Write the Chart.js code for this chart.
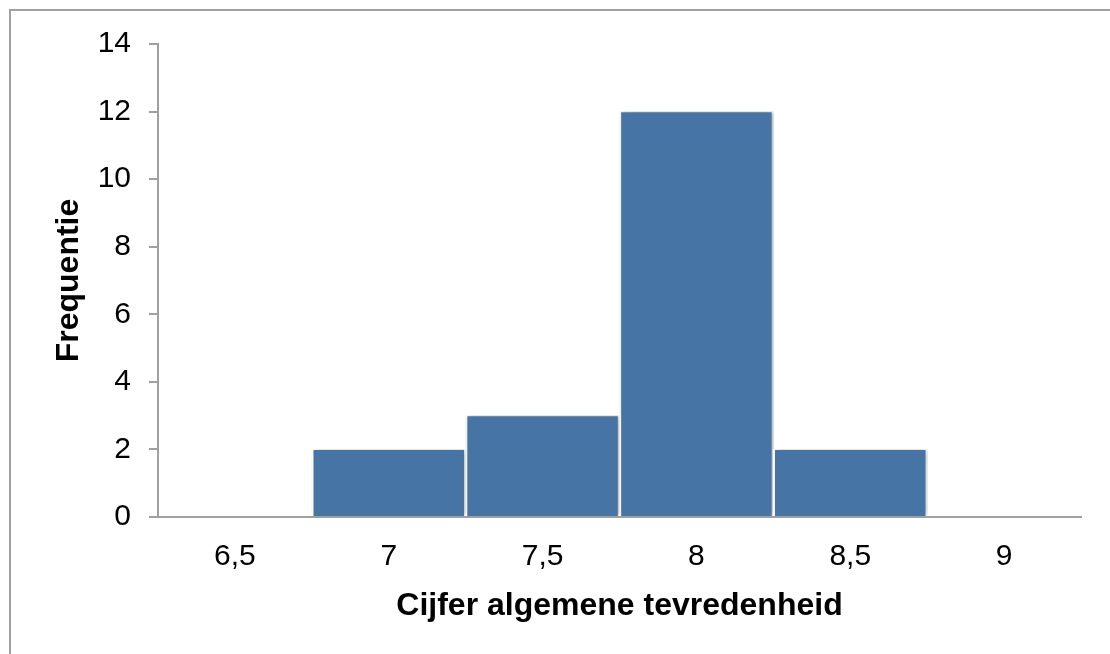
<!DOCTYPE html>
<html>
<head>
<meta charset="utf-8">
<script src="https://cdn.jsdelivr.net/npm/chart.js@4/dist/chart.umd.min.js"></script>
<style>
  html, body { margin: 0; padding: 0; background: #fff; }
  #wrap { width: 1110px; height: 654px; }
</style>
</head>
<body>
<div id="wrap"><canvas id="grafiek"></canvas></div>
<script>
// klassen (cijfers) en frequenties
var cijfers = ['6,5', '7', '7,5', '8', '8,5', '9'];
var frequenties = [0, 2, 3, 12, 2, 0];
var yTicks = [0, 2, 4, 6, 8, 10, 12, 14];

var grijs = '#a0a0a0';
var balkKleur = '#4674a5';

// achtergrond + grijze rand om de figuur
var randPlugin = {
    id: 'rand',
    beforeDraw: function(chart) {
        var ctx = chart.ctx;
        ctx.save();
        ctx.fillStyle = '#fff';
        ctx.fillRect(0, 0, chart.width, chart.height);
        ctx.strokeStyle = grijs;
        ctx.lineWidth = 2;
        ctx.strokeRect(10, 10, chart.width + 20, chart.height + 20);
        ctx.restore();
    },
    // lichte schaduw achter de balken
    beforeDatasetDraw: function(chart) {
        var ctx = chart.ctx;
        ctx.save();
        ctx.shadowColor = 'rgba(0,0,0,0.3)';
        ctx.shadowBlur = 5;
        ctx.shadowOffsetX = 2;
        ctx.shadowOffsetY = 0;
    },
    afterDatasetDraw: function(chart) {
        chart.ctx.restore();
    }
};

var ctx = document.getElementById('grafiek').getContext('2d');
var chart = new Chart(ctx, {
    type: 'bar',
    data: {
        labels: cijfers,
        datasets: [{
            label: 'Frequentie',
            data: frequenties,
            backgroundColor: balkKleur,
            borderColor: '#ffffff',
            borderWidth: { left: 2, right: 2, top: 1, bottom: 0 },
            borderSkipped: false,
            categoryPercentage: 1,
            barPercentage: 1
        }]
    },
    options: {
        responsive: true,
        maintainAspectRatio: false,
        animation: false,
        devicePixelRatio: 1,
        layout: { padding: { left: 0, top: 44, right: 29, bottom: 0 } },
        plugins: {
            legend: { display: false },
            tooltip: { enabled: false }
        },
        scales: {
            x: {
                grid: { display: true, drawOnChartArea: false, drawTicks: false },
                border: { color: grijs, width: 2 },
                ticks: {
                    color: '#000',
                    padding: 22,
                    maxRotation: 0,
                    font: { family: 'Liberation Sans', size: 30 }
                },
                title: {
                    display: true,
                    text: 'Cijfer algemene tevredenheid',
                    color: '#000',
                    padding: { top: 29, bottom: 29 },
                    font: { family: 'Liberation Sans', size: 32, weight: 'bold' }
                },
                afterFit: function(scale) { scale.height = 137; }
            },
            y: {
                min: 0,
                max: 14,
                afterBuildTicks: function(scale) {
                    scale.ticks = yTicks.map(function(v) { return { value: v }; });
                },
                grid: { drawOnChartArea: false, drawTicks: true, tickLength: 9, color: grijs, lineWidth: 2 },
                border: { color: grijs, width: 2 },
                ticks: {
                    color: '#000',
                    padding: 18,
                    font: { family: 'Liberation Sans', size: 30 }
                },
                title: {
                    display: true,
                    text: 'Frequentie',
                    color: '#000',
                    padding: { top: 50, bottom: 50 },
                    font: { family: 'Liberation Sans', size: 32, weight: 'bold' }
                },
                afterFit: function(scale) { scale.width = 158; }
            }
        }
    },
    plugins: [randPlugin]
});
</script>
</body>
</html>
